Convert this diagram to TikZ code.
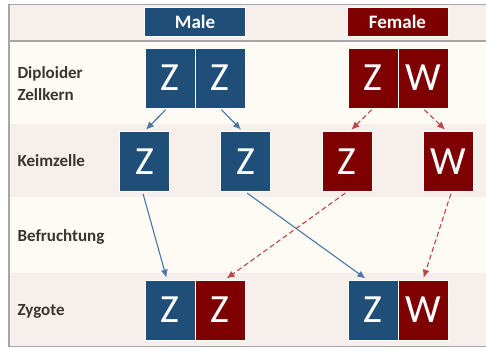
\documentclass[tikz,border=0pt]{standalone}
\usepackage{fontspec}
\setmainfont{Carlito}
\usepackage{tikz}
\usetikzlibrary{arrows.meta}
\definecolor{malecol}{HTML}{1F4E79}
\definecolor{femalecol}{HTML}{7F0000}
\definecolor{malearr}{HTML}{4A78A6}
\definecolor{femalearr}{HTML}{C04545}
\definecolor{rowA}{HTML}{F6EFEB}
\definecolor{rowB}{HTML}{FDFBF4}
\definecolor{framecol}{HTML}{A6A6A6}
\definecolor{labelcol}{HTML}{3A3530}

\begin{document}
\begin{tikzpicture}[x=1pt,y=-1pt,
  gene/.style={minimum width=50pt,minimum height=60pt,inner sep=0pt,draw=white,line width=0.8pt,text=white,font=\fontsize{40}{40}\selectfont},
  head/.style={minimum width=101pt,minimum height=29pt,inner sep=0pt,draw=white,line width=0.8pt,text=white,font=\fontsize{19}{19}\selectfont\bfseries},
  rowlabel/.style={anchor=west,align=left,text=labelcol,font=\fontsize{17}{22}\selectfont\bfseries},
  marr/.style={draw=malearr,line width=1.1pt,-{Latex[length=8pt,width=7pt]},shorten <=2pt,shorten >=2pt},
  farr/.style={draw=femalearr,line width=1.1pt,dash pattern=on 5pt off 3pt,-{Latex[length=8pt,width=7pt]},shorten <=2pt,shorten >=2pt}]
\useasboundingbox (0,0) rectangle (486,349);
%\draw[help lines,step=20](0,0)grid(486,349);
\fill[white] (0,0) rectangle (486,349);
\fill[rowA] (9,4.5) rectangle (486,41);
\fill[rowB] (9,41) rectangle (486,124);
\fill[rowA] (9,124) rectangle (486,197);
\fill[rowB] (9,197) rectangle (486,273);
\fill[rowA] (9,273) rectangle (486,346.5);
\draw[framecol,line width=1.5pt] (486,4.5)--(9,4.5)--(9,346.5)--(486,346.5);
\draw[framecol,line width=1.2pt] (9,41)--(486,41);

\node[head,fill=malecol] (male) at (195,21.5) {Male};
\node[head,fill=femalecol] (female) at (397.5,21.5) {Female};

\node[rowlabel] (lDip) at (14,84) {Diploider\\Zellkern};
\node[rowlabel] (lKeim) at (14,161) {Keimzelle};
\node[rowlabel] (lBef) at (14,237) {Befruchtung};
\node[rowlabel] (lZyg) at (14,311) {Zygote};

% diploid nuclei
\node[gene,fill=malecol] (mA) at (170,78) {Z};
\node[gene,fill=malecol] (mB) at (220,78) {Z};
\node[gene,fill=femalecol] (fA) at (373,78) {Z};
\node[gene,fill=femalecol] (fB) at (423,78) {W};

% gametes
\node[gene,fill=malecol] (kA) at (144.5,161.5) {Z};
\node[gene,fill=malecol] (kB) at (245.5,161.5) {Z};
\node[gene,fill=femalecol] (kC) at (347,161.5) {Z};
\node[gene,fill=femalecol] (kD) at (448.5,161.5) {W};

% zygotes
\node[gene,fill=malecol] (zA) at (170,310) {Z};
\node[gene,fill=femalecol] (zB) at (220,310) {Z};
\node[gene,fill=malecol] (zC) at (373,310) {Z};
\node[gene,fill=femalecol] (zD) at (423,310) {W};

\draw[marr] ([xshift=-3pt]mA.south) -- (kA.north);
\draw[marr] (mB.south) -- ([xshift=-3pt]kB.north);
\draw[farr] (fA.south) -- ([xshift=3pt]kC.north);
\draw[farr] (fB.south) -- ([xshift=-2pt]kD.north);

\draw[marr] ([xshift=-2pt]kA.south) -- ([xshift=-3pt]zA.north);
\draw[marr] (kB.south) -- ([xshift=-6pt]zC.north);
\draw[farr] (kC.south) -- ([xshift=5pt]zB.north);
\draw[farr] ([xshift=3pt]kD.south) -- (zD.north);
\end{tikzpicture}
\end{document}
